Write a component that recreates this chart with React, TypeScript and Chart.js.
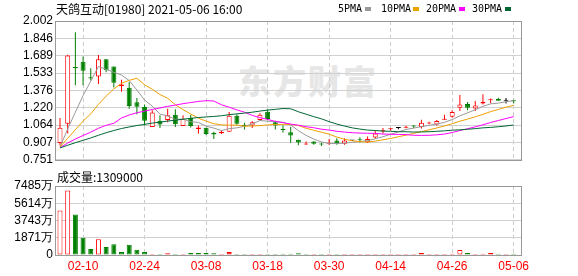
import React, { useEffect, useRef } from 'react';
import { Chart, registerables } from 'chart.js';

Chart.register(...registerables);

const dates = ['02-05','02-08','02-09','02-10','02-11','02-16','02-17','02-18','02-19','02-22','02-23','02-24','02-25','02-26','03-01','03-02','03-03','03-04','03-05','03-08','03-09','03-10','03-11','03-12','03-15','03-16','03-17','03-18','03-19','03-22','03-23','03-24','03-25','03-26','03-29','03-30','03-31','04-01','04-07','04-08','04-09','04-12','04-13','04-14','04-15','04-16','04-19','04-20','04-21','04-22','04-23','04-26','04-27','04-28','04-29','04-30','05-03','05-04','05-05','05-06'];

const opens = [0.902,1.075,1.588,1.634,1.495,1.501,1.657,1.591,1.414,1.400,1.269,1.226,1.046,1.104,1.110,1.156,1.055,1.127,1.029,1.040,0.994,0.991,1.003,1.148,1.066,1.061,1.110,1.185,1.090,1.029,1.000,0.931,0.890,0.916,0.895,0.896,0.925,0.896,0.925,0.934,0.910,0.951,1.006,1.026,1.038,1.040,1.058,1.046,1.078,1.069,1.113,1.139,1.220,1.255,1.214,1.258,1.287,1.298,1.284,1.284];
const closes = [1.040,1.692,1.576,1.553,1.484,1.657,1.559,1.446,1.429,1.235,1.229,1.104,1.177,1.069,1.153,1.072,1.119,1.055,1.043,0.983,0.980,1.003,1.148,1.075,1.055,1.090,1.156,1.119,1.061,1.020,0.970,0.906,0.896,0.896,0.888,0.904,0.896,0.925,0.925,0.928,0.939,0.988,1.017,1.032,1.038,1.046,1.052,1.084,1.084,1.101,1.119,1.182,1.249,1.220,1.240,1.275,1.292,1.284,1.284,1.278];
const highs = [1.127,1.697,1.901,1.683,1.576,1.695,1.660,1.591,1.472,1.452,1.307,1.249,1.197,1.153,1.211,1.206,1.153,1.156,1.061,1.040,1.003,1.018,1.182,1.162,1.084,1.098,1.171,1.206,1.104,1.061,1.050,0.931,0.916,0.919,0.904,0.939,0.945,0.945,0.930,0.954,0.960,1.018,1.038,1.038,1.046,1.058,1.064,1.113,1.095,1.110,1.156,1.197,1.336,1.272,1.281,1.342,1.304,1.310,1.307,1.292];
const lows = [0.880,0.988,1.423,1.423,1.466,1.434,1.539,1.403,1.365,1.211,1.162,1.061,1.046,1.038,1.090,1.046,1.055,1.043,0.989,0.974,0.939,0.983,1.003,1.066,1.023,1.038,1.101,1.110,1.023,0.997,0.905,0.882,0.884,0.887,0.876,0.884,0.887,0.887,0.920,0.908,0.902,0.939,0.988,1.012,1.026,1.035,1.035,1.032,1.072,1.061,1.113,1.130,1.191,1.197,1.191,1.249,1.258,1.284,1.258,1.258];

// volume in 万
const volumes = [4820,7010,4380,1860,660,1720,880,1170,330,1100,580,330,110,75,180,75,75,220,220,220,180,75,330,110,75,75,75,75,110,146,146,180,100,100,100,100,100,110,90,100,110,120,110,100,90,100,100,220,110,120,110,130,548,220,110,146,220,130,100,131];

const ma5 = [0.864,1.030,1.180,1.330,1.460,1.592,1.566,1.540,1.515,1.465,1.380,1.289,1.235,1.163,1.146,1.115,1.118,1.094,1.088,1.054,1.037,1.014,1.032,1.039,1.053,1.074,1.105,1.099,1.096,1.089,1.065,1.014,0.971,0.938,0.912,0.898,0.897,0.902,0.908,0.916,0.923,0.941,0.959,0.981,1.003,1.024,1.037,1.050,1.061,1.073,1.088,1.114,1.147,1.174,1.202,1.233,1.255,1.262,1.275,1.283];
const ma10 = [0.866,0.945,1.022,1.100,1.165,1.250,1.325,1.390,1.440,1.467,1.486,1.427,1.387,1.339,1.306,1.247,1.203,1.164,1.126,1.100,1.076,1.066,1.063,1.064,1.054,1.056,1.059,1.066,1.068,1.071,1.070,1.060,1.035,1.017,1.000,0.982,0.956,0.936,0.923,0.914,0.911,0.919,0.931,0.944,0.959,0.973,0.989,1.005,1.021,1.038,1.056,1.076,1.099,1.118,1.138,1.161,1.185,1.205,1.225,1.242];
const ma20 = [0.860,0.902,0.938,0.970,1.000,1.035,1.062,1.080,1.128,1.155,1.175,1.190,1.205,1.218,1.233,1.244,1.257,1.267,1.277,1.284,1.281,1.247,1.225,1.201,1.180,1.151,1.131,1.115,1.097,1.086,1.073,1.063,1.049,1.040,1.027,1.019,1.008,1.001,0.995,0.992,0.990,0.989,0.983,0.981,0.980,0.978,0.972,0.971,0.972,0.976,0.983,0.997,1.015,1.031,1.048,1.067,1.087,1.105,1.123,1.140];
const ma30 = [0.858,0.882,0.905,0.927,0.948,0.972,0.995,1.015,1.033,1.047,1.060,1.070,1.082,1.090,1.100,1.108,1.117,1.125,1.132,1.137,1.142,1.148,1.158,1.165,1.172,1.180,1.190,1.199,1.206,1.213,1.211,1.184,1.162,1.140,1.120,1.095,1.073,1.055,1.039,1.028,1.019,1.015,1.010,1.008,1.004,1.004,1.001,1.002,1.004,1.008,1.012,1.018,1.021,1.026,1.032,1.039,1.043,1.049,1.056,1.065];

const xTickLabels = ['02-10','02-24','03-08','03-18','03-30','04-14','04-26','05-06'];
const priceTicks = [0.751,0.907,1.064,1.220,1.376,1.533,1.689,1.846,2.002];
const volumeTicks = [0,1871,3743,5614,7485];

const RED = '#ff0000';
const GREEN = '#008000';
const MA_COLORS = ['#999999', '#f0a000', '#ff00ff', '#006633'];

const frame = {
  id: 'frame',
  afterDraw(chart: any) {
    const { ctx, chartArea: a } = chart;
    ctx.save();
    ctx.strokeStyle = '#999999';
    ctx.lineWidth = 1;
    ctx.strokeRect(Math.round(a.left) - 0.5, Math.round(a.top) + 0.5, Math.round(a.right - a.left), Math.round(a.bottom - a.top));
    ctx.restore();
  },
};

const tickFont = { family: 'Liberation Sans', size: 12 };

function xScale(showLabels: boolean) {
  return {
    type: 'linear',
    min: -0.52,
    max: 60.08,
    offset: false,
    afterBuildTicks: (axis: any) => {
      axis.ticks = xTickLabels.map((l) => ({ value: dates.indexOf(l) }));
    },
    afterFit: (axis: any) => {
      axis.height = showLabels ? 21 : 0;
    },
    grid: { color: '#cccccc', lineWidth: 1, drawTicks: false, offset: false },
    border: { display: false, dash: [4, 3] },
    ticks: {
      display: showLabels,
      color: RED,
      font: tickFont,
      padding: 4,
      maxRotation: 0,
      autoSkip: false,
      callback: (v: any) => dates[v] ?? '',
    },
  };
}

function candleColor(i: number) {
  if (closes[i] > opens[i]) return RED;
  if (closes[i] < opens[i]) return GREEN;
  return '#000000';
}

export default function App() {
  const priceRef = useRef<HTMLCanvasElement>(null);
  const volRef = useRef<HTMLCanvasElement>(null);

  useEffect(() => {
    const bodyColors = opens.map((_, i) => candleColor(i));
    const bodyFill = opens.map((o, i) =>
      closes[i] > o && closes[i] - o > 0.018 ? '#ffffff' : bodyColors[i]
    );
    const volUp = volumes.map((_, i) => closes[i] >= (i === 0 ? opens[0] : closes[i - 1]));
    const volColors = volUp.map((u) => (u ? RED : GREEN));
    const volFill = volumes.map((v, i) => (volUp[i] && v > 400 ? '#ffffff' : volColors[i]));

    const common = {
      animation: false,
      responsive: false,
      devicePixelRatio: 1,
      events: [],
      plugins: { legend: { display: false }, tooltip: { enabled: false }, title: { display: false } },
    };

    const maSeries = [ma5, ma10, ma20, ma30];

    const pc = new Chart(priceRef.current as HTMLCanvasElement, {
      type: 'bar',
      data: {
        datasets: [
          ...maSeries.map((s, k) => ({
            type: 'line',
            data: s.map((v, i) => ({ x: i, y: v })),
            borderColor: MA_COLORS[k],
            borderWidth: 1,
            pointRadius: 0,
            tension: 0,
            fill: false,
            order: 1 + (3 - k) * 0.1,
          })),
          {
            type: 'bar',
            data: opens.map((o, i) => ({ x: i, y: [o, closes[i]] })),
            backgroundColor: bodyFill,
            borderColor: bodyColors,
            borderWidth: 1,
            borderSkipped: false,
            barThickness: 5,
            minBarLength: 1,
            grouped: false,
            inflateAmount: 0,
            order: 5,
          },
          {
            type: 'bar',
            data: lows.map((l, i) => ({ x: i, y: [l, highs[i]] })),
            backgroundColor: bodyColors,
            borderWidth: 0,
            barThickness: 1,
            minBarLength: 1,
            grouped: false,
            inflateAmount: 0,
            order: 6,
          },
        ],
      } as any,
      options: {
        ...common,
        layout: { padding: { left: 0, right: 56, top: 21, bottom: 5 } },
        scales: {
          x: xScale(false),
          y: {
            type: 'linear',
            min: 0.751,
            max: 2.002,
            afterBuildTicks: (axis: any) => {
              axis.ticks = priceTicks.map((v) => ({ value: v }));
            },
            afterFit: (axis: any) => {
              axis.width = 56;
            },
            grid: { color: '#d0d0d0', drawTicks: false },
            border: { display: false },
            ticks: {
              color: '#000000',
              font: tickFont,
              padding: 3,
              autoSkip: false,
              callback: (v: any) => Number(v).toFixed(3),
            },
          },
        },
      } as any,
      plugins: [frame],
    });

    const vc = new Chart(volRef.current as HTMLCanvasElement, {
      type: 'bar',
      data: {
        datasets: [
          {
            type: 'bar',
            data: volumes.map((v, i) => ({ x: i, y: v })),
            backgroundColor: volFill,
            borderColor: volColors,
            borderWidth: 1,
            borderSkipped: false,
            barThickness: 5,
            minBarLength: 1,
            grouped: false,
            inflateAmount: 0,
          },
        ],
      } as any,
      options: {
        ...common,
        layout: { padding: { left: 0, right: 56, top: 14, bottom: 0 } },
        scales: {
          x: xScale(true),
          y: {
            type: 'linear',
            min: 0,
            max: 7485,
            afterBuildTicks: (axis: any) => {
              axis.ticks = volumeTicks.map((v) => ({ value: v }));
            },
            afterFit: (axis: any) => {
              axis.width = 56;
            },
            grid: { color: '#d0d0d0', drawTicks: false },
            border: { display: false },
            ticks: {
              color: '#000000',
              font: tickFont,
              padding: 3,
              autoSkip: false,
              callback: (v: any) => (Number(v) === 0 ? '0' : `${v}万`),
            },
          },
        },
      } as any,
      plugins: [frame],
    });

    return () => {
      pc.destroy();
      vc.destroy();
    };
  }, []);

  const legendItems = [
    { text: '5PMA', left: 338, sq: 365 },
    { text: '10PMA', left: 381, sq: 413 },
    { text: '20PMA', left: 426, sq: 459 },
    { text: '30PMA', left: 472, sq: 505 },
  ];

  return (
    <div style={{ position: 'absolute', left: 0, top: 0, width: 578, height: 276, background: '#ffffff', overflow: 'hidden' }}>
      <div
        style={{
          position: 'absolute',
          left: 238,
          top: 60,
          fontFamily: '"Noto Sans CJK SC"',
          fontWeight: 900,
          fontSize: 33,
          lineHeight: '40px',
          letterSpacing: 2,
          color: '#e6e6e6',
          whiteSpace: 'nowrap',
        }}
      >
        东方财富
      </div>
      <canvas ref={priceRef} width={578} height={170} style={{ position: 'absolute', left: 0, top: 0 }} />
      <canvas ref={volRef} width={578} height={104} style={{ position: 'absolute', left: 0, top: 172 }} />
      <div
        style={{
          position: 'absolute',
          left: 56,
          top: 1,
          fontFamily: '"Noto Sans CJK SC"',
          fontSize: 12,
          lineHeight: '16px',
          color: '#000000',
          whiteSpace: 'nowrap',
        }}
      >
        天鸽互动[01980] 2021-05-06 16:00
      </div>
      {legendItems.map((it, k) => (
        <React.Fragment key={it.text}>
          <div
            style={{
              position: 'absolute',
              left: it.left,
              top: 2,
              fontFamily: '"DejaVu Sans Mono"',
              fontSize: 10,
              lineHeight: '14px',
              color: '#000000',
              whiteSpace: 'nowrap',
            }}
          >
            {it.text}
          </div>
          <div style={{ position: 'absolute', left: it.sq, top: 7, width: 6, height: 4, background: MA_COLORS[k] }} />
        </React.Fragment>
      ))}
      <div
        style={{
          position: 'absolute',
          left: 57,
          top: 169,
          fontFamily: '"Noto Sans CJK SC"',
          fontSize: 12,
          lineHeight: '16px',
          color: '#000000',
          whiteSpace: 'nowrap',
        }}
      >
        成交量:1309000
      </div>
    </div>
  );
}
